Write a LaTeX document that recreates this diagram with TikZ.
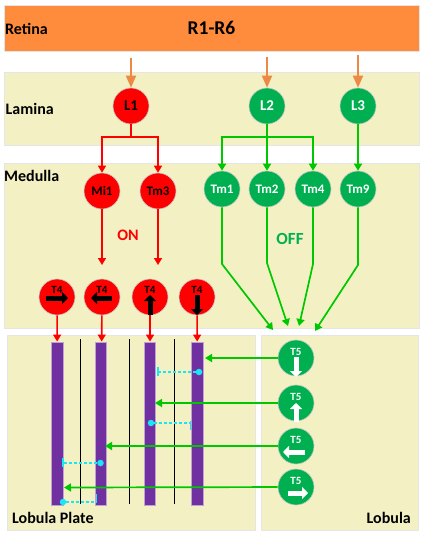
\documentclass[tikz,border=0pt]{standalone}
\usepackage{fontspec}
\setmainfont{Carlito}
\usetikzlibrary{calc,arrows.meta}
\definecolor{bandcol}{HTML}{F3F1C4}
\definecolor{retinacol}{HTML}{FF8C3C}
\definecolor{feedcol}{HTML}{EC8A45}
\definecolor{cellgreen}{HTML}{00B050}
\definecolor{linegreen}{HTML}{00C800}
\definecolor{barcol}{HTML}{7030A0}
\definecolor{dashcol}{HTML}{1BE6F5}
\tikzset{
  band/.style={rectangle,fill=bandcol,draw=black!10,line width=0.8pt,inner sep=0pt},
  tag/.style={font=\bfseries\fontsize{16}{18}\selectfont,inner sep=0pt},
  cellred/.style={circle,fill=red,draw=gray!45,line width=0.6pt,minimum size=36pt,inner sep=0pt,font=\bfseries\fontsize{13}{14}\selectfont},
  cellgrn/.style={cellred,fill=cellgreen,text=white},
  bigtext/.style={font=\bfseries\fontsize{15}{16}\selectfont},
  small/.style={font=\bfseries\fontsize{11}{12}\selectfont,inner sep=0pt},
  feed/.style={feedcol,line width=1.8pt,-{Triangle[length=12pt,width=10pt]}},
  redline/.style={red,line width=1.6pt},
  redarrow/.style={redline,-{Triangle[length=7pt,width=8pt]}},
  grnline/.style={linegreen,line width=1.7pt},
  grnarrow/.style={grnline,-{Triangle[length=7pt,width=8pt]}},
  bar/.style={rectangle,fill=barcol,draw=barcol!45,line width=0.9pt,minimum width=11.5pt,minimum height=163pt,inner sep=0pt},
  divider/.style={black,line width=0.7pt},
  dirblack/.style={black,line width=5pt,-{Triangle[length=6pt,width=12pt]}},
  dirwhite/.style={white,line width=5pt,-{Triangle[length=6pt,width=12pt]}},
  inhib/.style={dashcol,line width=1.4pt,dash pattern=on 3pt off 2pt},
  dot/.style={circle,fill=dashcol,minimum size=6.5pt,inner sep=0pt},
  stopbar/.style={dashcol,line width=1.6pt}
}
\begin{document}
\begin{tikzpicture}[x=1pt,y=-1pt]
  \useasboundingbox (0,0) rectangle (422,534);

  % Layers
  \node[rectangle,fill=retinacol,draw=black!10,line width=0.8pt,minimum width=415pt,minimum height=46pt,inner sep=0pt,font=\bfseries\fontsize{19.5}{21}\selectfont] (retina) at (211.5,28) {R1-R6};
  \node[band,minimum width=415pt,minimum height=73pt] (lamina) at (211.5,108.5) {};
  \node[band,minimum width=415pt,minimum height=165pt] (medulla) at (211.5,245.5) {};
  \node[band,minimum width=248pt,minimum height=195pt] (plate) at (131,432.5) {};
  \node[band,minimum width=157pt,minimum height=195pt] (lobula) at (339.5,432.5) {};

  \node[tag,anchor=west] (retinatag) at (5,29) {Retina};
  \node[tag,anchor=west] (laminatag) at (5.5,109) {Lamina};
  \node[tag,anchor=west] (medullatag) at (4,176) {Medulla};
  \node[tag,anchor=west] (platetag) at (12,518) {Lobula Plate};
  \node[tag,anchor=east] (lobulatag) at (411,518) {Lobula};

  % Cells
  \node[cellred,bigtext] (l1) at (131,106) {L1};
  \node[cellgrn,bigtext] (l2) at (267,106) {L2};
  \node[cellgrn,bigtext] (l3) at (358,106) {L3};

  \node[cellred] (mi1) at (102,191) {Mi1};
  \node[cellred] (tm3) at (158,191) {Tm3};
  \node[cellgrn] (tm1) at (222,189) {Tm1};
  \node[cellgrn] (tm2) at (267,189) {Tm2};
  \node[cellgrn] (tm4) at (313,189) {Tm4};
  \node[cellgrn] (tm9) at (358,189) {Tm9};

  \node[red,tag] (ontag) at (128,235) {ON};
  \node[cellgreen,tag,font=\bfseries\fontsize{17}{18}\selectfont] (offtag) at (290,239) {OFF};

  \node[cellred,label={[small,yshift=7pt]center:T4}] (t4a) at (57,297) {};
  \node[cellred,label={[small,yshift=7pt]center:T4}] (t4b) at (102,297) {};
  \node[cellred,label={[small,yshift=7pt]center:T4}] (t4c) at (150,297) {};
  \node[cellred,label={[small,yshift=7pt]center:T4}] (t4d) at (197,297) {};

  \node[cellgrn,label={[small,white,yshift=6pt]center:T5}] (t5a) at (296,358) {};
  \node[cellgrn,label={[small,white,yshift=6pt]center:T5}] (t5b) at (296,403) {};
  \node[cellgrn,label={[small,white,yshift=6pt]center:T5}] (t5c) at (296,446) {};
  \node[cellgrn,label={[small,white,yshift=6pt]center:T5}] (t5d) at (296,487) {};

  % Direction arrows inside the cells
  \draw[dirblack] ($(t4a)+(-11,1)$) -- ($(t4a)+(11,1)$);
  \draw[dirblack] ($(t4b)+(10,1)$) -- ($(t4b)+(-11,1)$);
  \draw[dirblack] ($(t4c)+(0,18)$) -- ($(t4c)+(0,-2)$);
  \draw[dirblack] ($(t4d)+(0,-2)$) -- ($(t4d)+(0,18)$);
  \draw[dirwhite] ($(t5a)+(0,-1)$) -- ($(t5a)+(0,19)$);
  \draw[dirwhite] ($(t5b)+(0,19)$) -- ($(t5b)+(0,0)$);
  \draw[dirwhite] ($(t5c)+(9,6)$) -- ($(t5c)+(-13,6)$);
  \draw[dirwhite] ($(t5d)+(-8,6)$) -- ($(t5d)+(12,6)$);

  % Retina to lamina
  \coordinate (feeda) at (131,58);
  \coordinate (feedb) at (267,57);
  \coordinate (feedc) at (358,55);
  \draw[feed] (feeda) -- (l1);
  \draw[feed] (feedb) -- (l2);
  \draw[feed] (feedc) -- (l3);

  % Lamina to medulla
  \coordinate (forkred) at (131,137);
  \coordinate (forkgrn) at (267,137);
  \draw[redline] (l1) -- (forkred);
  \draw[redarrow] (forkred) -| (mi1);
  \draw[redarrow] (forkred) -| (tm3);
  \draw[grnarrow] (forkgrn) -| (tm1);
  \draw[grnarrow] (forkgrn) -| (tm4);
  \draw[grnarrow] (l2) -- (tm2);
  \draw[grnarrow] (l3) -- (tm9);

  % ON pathway
  \coordinate (miend) at (102,265);
  \coordinate (tmend) at (158,265);
  \draw[redarrow] (mi1) -- (miend);
  \draw[redarrow] (tm3) -- (tmend);

  % OFF pathway
  \coordinate (bendone) at (222,264);
  \coordinate (bendtwo) at (267,263);
  \coordinate (bendfour) at (313,264);
  \coordinate (bendnine) at (358,265);
  \coordinate (endone) at (273,330);
  \coordinate (endtwo) at (288,326);
  \coordinate (endfour) at (299,326);
  \coordinate (endnine) at (315,331);
  \draw[grnarrow] (tm1) -- (bendone) -- (endone);
  \draw[grnarrow] (tm2) -- (bendtwo) -- (endtwo);
  \draw[grnarrow] (tm4) -- (bendfour) -- (endfour);
  \draw[grnarrow] (tm9) -- (bendnine) -- (endnine);

  % Lobula plate layers
  \node[bar] (bara) at (57.5,423.5) {};
  \node[bar] (barb) at (101,423.5) {};
  \node[bar] (barc) at (150,423.5) {};
  \node[bar] (bard) at (197.5,423.5) {};

  \draw[divider] (80,339) -- (80,504);
  \draw[divider] (129,339) -- (129,504);
  \draw[divider] (174.5,339) -- (174.5,504);

  \draw[redarrow] (t4a) -- (bara);
  \draw[redarrow] (t4b) -- (barb);
  \draw[redarrow] (t4c) -- (barc);
  \draw[redarrow] (t4d) -- (bard);

  % T5 to the layers
  \coordinate (hita) at (205,358);
  \coordinate (hitb) at (155,403);
  \coordinate (hitc) at (105,446);
  \coordinate (hitd) at (64,487.5);
  \draw[grnarrow] (t5a) -- (hita);
  \draw[grnarrow] (t5b) -- (hitb);
  \draw[grnarrow] (t5c) -- (hitc);
  \draw[grnarrow] (t5d) -- (hitd);

  % Dashed links
  \node[dot] (dota) at (199,372) {};
  \node[dot] (dotb) at (151,423) {};
  \node[dot] (dotc) at (100.5,463) {};
  \node[dot] (dotd) at (63,502) {};
  \coordinate (stopa) at (158,372);
  \coordinate (stopb) at (190.5,423);
  \coordinate (stopc) at (63,463);
  \coordinate (stopd) at (96,502);
  \draw[inhib] (dota) -- (stopa);
  \draw[inhib] (dotb) -- (stopb);
  \draw[inhib] (dotc) -- (stopc);
  \draw[inhib] (dotd) -- (stopd);
  \draw[stopbar] (158,367) -- (158,376);
  \draw[stopbar] (190.5,421) -- (190.5,430);
  \draw[stopbar] (63,458) -- (63,467);
  \draw[stopbar] (96.5,494) -- (96.5,503);

\end{tikzpicture}
\end{document}
